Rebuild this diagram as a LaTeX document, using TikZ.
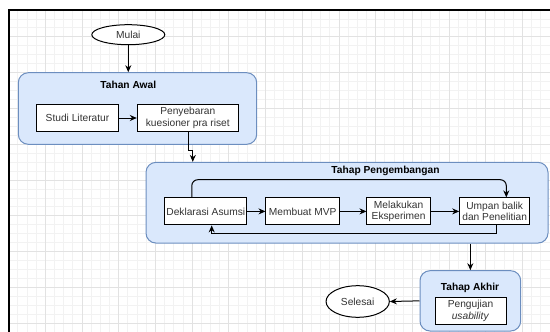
\documentclass[tikz,border=0pt]{standalone}
\usepackage{fontspec}
\setmainfont{Liberation Sans}
\usetikzlibrary{arrows.meta, positioning, shapes.geometric}
\definecolor{stagefill}{HTML}{DAE8FC}
\definecolor{stageline}{HTML}{6C8EBF}
\definecolor{gridminor}{HTML}{F2F2F2}
\definecolor{gridmajor}{HTML}{E2E2E2}

\begin{document}
\begin{tikzpicture}[
    x=1pt, y=-1pt,
    node distance=18pt,
    font=\fontsize{10.2}{11.7}\selectfont,
    box/.style={rectangle, draw, fill=white, line width=1pt, inner sep=1.5pt, minimum height=27pt, align=center, text=black!80},
    oval/.style={ellipse, draw, fill=white, line width=1pt, inner sep=0pt, text=black!80},
    stage/.style={rectangle, rounded corners=10pt, draw=stageline, fill=stagefill, line width=1pt, inner sep=0pt},
    stagetitle/.style={font=\fontsize{10.2}{11.7}\selectfont\bfseries},
    arrow/.style={-{Stealth[length=7pt, width=6pt]}, line width=1pt}
]
\useasboundingbox (0,0) rectangle (550,332);

\foreach \i in {1,...,59} \draw[gridminor, line width=0.6pt] ({8.5+\i*9.175},10) -- ++(0,322);
\foreach \j in {2,...,37} \draw[gridminor, line width=0.6pt] (8.5,{0.9+\j*8.95}) -- (550,{0.9+\j*8.95});
\foreach \i in {1,...,14} \draw[gridmajor, line width=0.6pt] ({8.5+\i*36.7},10) -- ++(0,322);
\foreach \j in {1,...,9} \draw[gridmajor, line width=0.6pt] (8.5,{0.9+\j*35.8}) -- (550,{0.9+\j*35.8});
\draw[line width=2pt] (8.5,332) -- (8.5,10) -- (550,10);

\node[oval, minimum width=73pt, minimum height=20pt] (mulai) at (128.3,34.7) {Mulai};

\node[stage, minimum width=238.4pt, minimum height=71.6pt] (awal) at (137.5,108.5) {};
\node[stagetitle] (awaltitle) at (128.3,85) {Tahan Awal};
\node[box, minimum width=81.6pt] (studi) at (77.5,118) {Studi Literatur};
\node[box, minimum width=101pt, right=18pt of studi] (sebar) {Penyebaran\\kuesioner pra riset};

\node[stage, minimum width=402pt, minimum height=80.7pt] (kembang) at (347,202.7) {};
\node[stagetitle] (kembangtitle) at (385.5,171) {Tahap Pengembangan};
\node[box, minimum width=81.7pt] (dek) at (205.8,211.4) {Deklarasi Asumsi};
\node[box, minimum width=73.3pt, right=18.3pt of dek] (mvp) {Membuat MVP};
\node[box, minimum width=63.3pt, right=26.7pt of mvp] (eks) {Melakukan\\Eksperimen};
\node[box, minimum width=70pt, right=28.4pt of eks] (umpan) {Umpan balik\\dan Penelitian};

\node[stage, minimum width=100.7pt, minimum height=60.3pt] (akhir) at (470.35,300.85) {};
\node[stagetitle] (akhirtitle) at (470,287.7) {Tahap Akhir};
\node[box, minimum width=71pt, minimum height=26.7pt] (uji) at (470.5,310.7) {Pengujian\\\textit{usability}};
\node[oval, minimum width=63.3pt, minimum height=31.6pt] (selesai) at (357.7,301.5) {Selesai};

\draw[arrow] (mulai.south) -- (mulai.south |- awal.north);
\draw[arrow] (studi) -- (sebar);
\draw[arrow] ([xshift=1pt]sebar.south) -- ++(0,18) -- ++(4,0) -- ([xshift=5pt]sebar.south |- kembang.north);
\draw[arrow] (dek) -- (mvp);
\draw[arrow] (mvp) -- (eks);
\draw[arrow] (eks) -- (umpan);
\draw[arrow, rounded corners=6pt] ([xshift=-14pt]dek.north) -- ++(0,-17.7) -| ([xshift=11.6pt]umpan.north);
\draw[arrow] ([xshift=1.6pt]umpan.south) -- ++(0,8.3) -| ([xshift=5.9pt]dek.south);
\draw[arrow] (akhir.north |- kembang.south) -- (akhir.north);
\draw[arrow] (akhir.west) -- (selesai.east);

\end{tikzpicture}
\end{document}
